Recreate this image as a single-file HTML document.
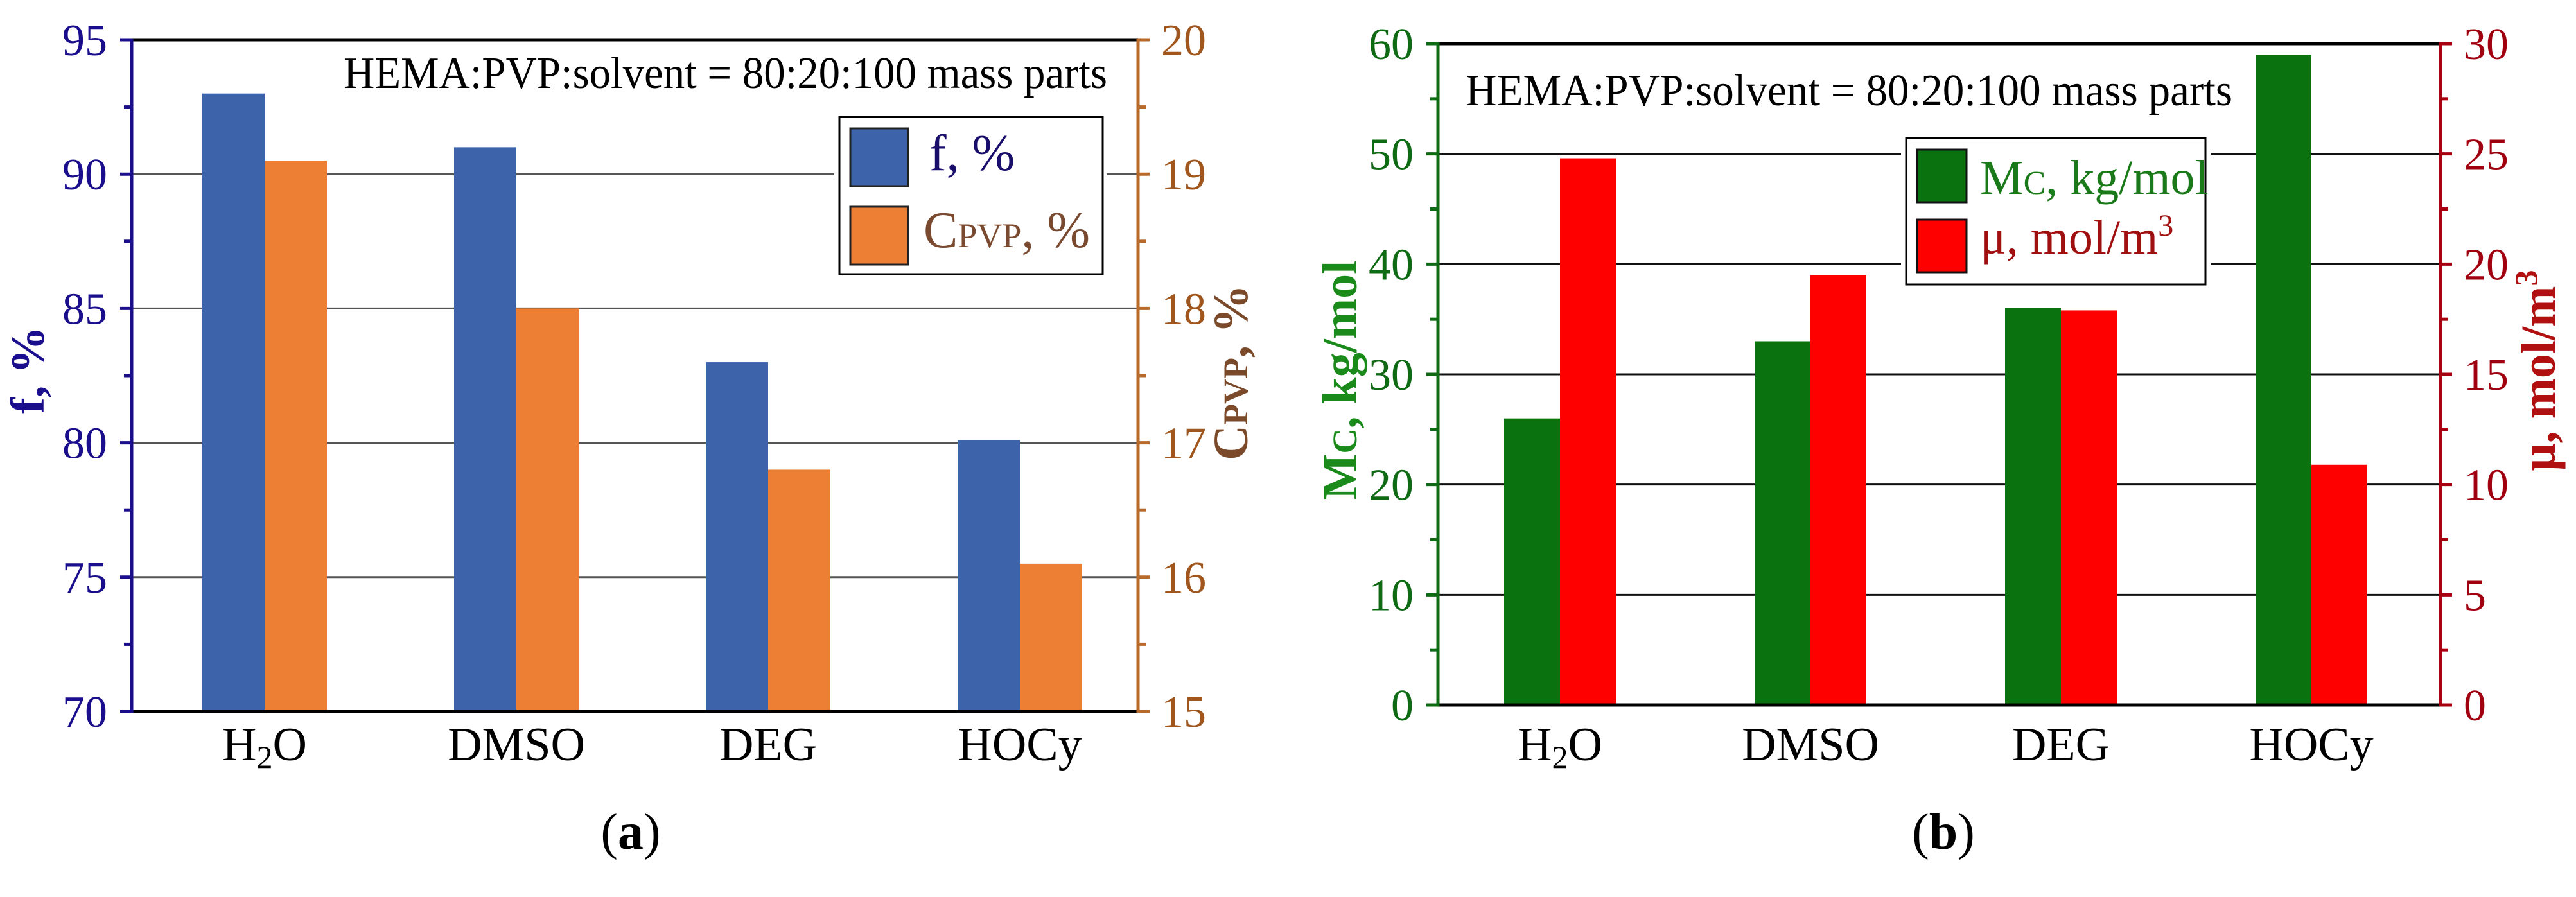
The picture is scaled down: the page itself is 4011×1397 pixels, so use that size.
<!DOCTYPE html>
<html><head><meta charset="utf-8">
<style>
html,body{margin:0;padding:0;background:#fff;}
svg, svg text{font-family:"Liberation Serif","Times New Roman",serif !important;}
</style></head>
<body>
<svg id="fig" width="4011" height="1392" viewBox="0 0 4011 1392" xmlns="http://www.w3.org/2000/svg" font-family="Liberation Serif, serif">
<rect width="4011" height="1392" fill="#fff"/>
<g id="chartA" font-family="Liberation Serif, serif"></g>
<g id="chartB" font-family="Liberation Serif, serif"></g>
</svg>
<script>
const categoriesA = ["H2O","DMSO","DEG","HOCy"];
const fValues = [93, 91, 83, 80.1];
const cpvpValues = [19.1, 18.0, 16.8, 16.1];
const leftTicksA = [70,75,80,85,90,95];
const rightTicksA = [15,16,17,18,19,20];

const categoriesB = ["H2O","DMSO","DEG","HOCy"];
const mcValues = [26, 33, 36, 59];
const muValues = [24.8, 19.5, 17.9, 10.9];
const leftTicksB = [0,10,20,30,40,50,60];
const rightTicksB = [0,5,10,15,20,25,30];

const NS = "http://www.w3.org/2000/svg";
function mk(parent, tag, attrs, text){
  const e = document.createElementNS(NS, tag);
  for (const k in attrs) e.setAttribute(k, attrs[k]);
  if (text !== undefined) e.textContent = text;
  parent.appendChild(e);
  return e;
}
function catLabel(g, name, x, y){
  const t = mk(g, "text", {x:x, y:y, "font-size":74, "text-anchor":"middle", fill:"#000"});
  
  
  if (name === "H2O"){
    mk(t, "tspan", {}, "H");
    mk(t, "tspan", {"font-size":50, dy:12}, "2");
    mk(t, "tspan", {dy:-12}, "O");
  } else t.textContent = name;
}

function drawChart(cfg){
  const g = document.getElementById(cfg.id);
  const {x0,x1,y0,y1} = cfg;
  const yL = v => y1 - (v - cfg.lmin)/(cfg.lmax - cfg.lmin)*(y1 - y0);
  const yR = v => y1 - (v - cfg.rmin)/(cfg.rmax - cfg.rmin)*(y1 - y0);
  const xC = i => cfg.c0 + i*cfg.step;
  cfg.leftTicks.forEach((v,i)=>{
    if (i===0 || i===cfg.leftTicks.length-1) return;
    const l = mk(g,"line",{x1:x0,x2:x1,y1:yL(v),y2:yL(v),stroke:cfg.grid,"stroke-width":3});
    
    
  });
  cfg.cats.forEach((c,i)=>{
    const b1 = mk(g,"rect",{x:xC(i)-cfg.bw,y:yL(cfg.s1[i]),width:cfg.bw,height:y1-yL(cfg.s1[i]),fill:cfg.c1});
    
    
    const b2 = mk(g,"rect",{x:xC(i),y:yR(cfg.s2[i]),width:cfg.bw,height:y1-yR(cfg.s2[i]),fill:cfg.c2});
    
    
    catLabel(g, c, xC(i), cfg.labY);
  });
  mk(g,"line",{x1:x0,x2:x1,y1:y0,y2:y0,stroke:"#000","stroke-width":5,});
  mk(g,"line",{x1:x0,x2:x1,y1:y1,y2:y1,stroke:"#000","stroke-width":5,});
  mk(g,"line",{x1:x0,x2:x0,y1:y0-2,y2:y1+2,stroke:cfg.la,"stroke-width":5,});
  const lstep = cfg.leftTicks[1]-cfg.leftTicks[0];
  cfg.leftTicks.forEach((v,i)=>{
    const tk = mk(g,"line",{x1:x0-18,x2:x0,y1:yL(v),y2:yL(v),stroke:cfg.la,"stroke-width":5});
    
    
    if (i < cfg.leftTicks.length-1){
      const m = mk(g,"line",{x1:x0-12,x2:x0,y1:yL(v+lstep/2),y2:yL(v+lstep/2),stroke:cfg.la,"stroke-width":5});
      
      
    }
    const t = mk(g,"text",{x:x0-38,y:yL(v)+24,"font-size":70,"text-anchor":"end",fill:cfg.lt},String(v));
    
    
  });
  mk(g,"line",{x1:x1,x2:x1,y1:y0-2,y2:y1+2,stroke:cfg.ra,"stroke-width":5,});
  const rstep = cfg.rightTicks[1]-cfg.rightTicks[0];
  cfg.rightTicks.forEach((v,i)=>{
    const tk = mk(g,"line",{x1:x1,x2:x1+18,y1:yR(v),y2:yR(v),stroke:cfg.ra,"stroke-width":5});
    
    
    if (i < cfg.rightTicks.length-1){
      const m = mk(g,"line",{x1:x1,x2:x1+12,y1:yR(v+rstep/2),y2:yR(v+rstep/2),stroke:cfg.ra,"stroke-width":5});
      
      
    }
    const t = mk(g,"text",{x:x1+36,y:yR(v)+24,"font-size":70,"text-anchor":"start",fill:cfg.rt},String(v));
    
    
  });
  return g;
}

drawChart({id:"chartA",x0:205,x1:1772,y0:62,y1:1108,lmin:70,lmax:95,rmin:15,rmax:20,
  c0:412,step:392,bw:97,cats:categoriesA,s1:fValues,s2:cpvpValues,c1:"#3d64ab",c2:"#ec7f33",n1:"f",n2:"cpvp",
  leftTicks:leftTicksA,rightTicks:rightTicksA,grid:"#555",la:"#1a0e8c",lt:"#1a0e8c",ra:"#b86a2a",rt:"#a0561c",labY:1184});
drawChart({id:"chartB",x0:2239,x1:3800,y0:68,y1:1098,lmin:0,lmax:60,rmin:0,rmax:30,
  c0:2429,step:390,bw:87,cats:categoriesB,s1:mcValues,s2:muValues,c1:"#0a720f",c2:"#ff0000",n1:"mc",n2:"mu",
  leftTicks:leftTicksB,rightTicks:rightTicksB,grid:"#111",la:"#0f6a14",lt:"#0f6a14",ra:"#a80010",rt:"#a00010",labY:1184});
</script>
<script>
(function(){
  const a=document.getElementById("chartA"), b=document.getElementById("chartB");
  a.insertAdjacentHTML("beforeend",`
  <text x="535" y="137" font-size="70" textLength="1189" lengthAdjust="spacingAndGlyphs">HEMA:PVP:solvent = 80:20:100 mass parts</text>
  <rect x="1299" y="176" width="424" height="257" fill="#fff"/>
  <rect x="1307" y="182" width="410" height="245" fill="#fff" stroke="#000" stroke-width="3"/>
  <rect x="1324" y="200" width="90" height="90" fill="#3d64ab" stroke="#222" stroke-width="3"/>
  <rect x="1324" y="322" width="90" height="90" fill="#ec7f33" stroke="#222" stroke-width="3"/>
  <text x="1447" y="265" font-size="80" fill="#1a0e6c">f, %</text>
  <text x="1438" y="385" font-size="80" fill="#7a4a30">C<tspan font-size="54">PVP</tspan>, %</text>
  <text transform="translate(68,576) rotate(-90)" font-size="74" font-weight="bold" text-anchor="middle" fill="#1a0e8c">f, %</text>
  <text transform="translate(1942,580) rotate(-90)" font-size="76" font-weight="bold" text-anchor="middle" fill="#7a4a2a">C<tspan font-size="54">PVP</tspan>, %</text>
  <text x="982" y="1322" font-size="80" text-anchor="middle">(<tspan font-weight="bold">a</tspan>)</text>`);
  b.insertAdjacentHTML("beforeend",`
  <text x="2282" y="164" font-size="70" textLength="1194" lengthAdjust="spacingAndGlyphs">HEMA:PVP:solvent = 80:20:100 mass parts</text>
  <rect x="2960" y="208" width="482" height="241" fill="#fff"/>
  <rect x="2968" y="215" width="466" height="228" fill="#fff" stroke="#000" stroke-width="3"/>
  <rect x="2985" y="233" width="77" height="82" fill="#0a720f" stroke="#111" stroke-width="3"/>
  <rect x="2985" y="342" width="77" height="82" fill="#ff0000" stroke="#111" stroke-width="3"/>
  <text x="3083" y="302" font-size="76" fill="#1a7a1a">M<tspan font-size="52">C</tspan>, kg/mol</text>
  <text x="3083" y="395" font-size="76" fill="#a01010">μ, mol/m<tspan font-size="48" dy="-28">3</tspan></text>
  <text transform="translate(2112,592) rotate(-90)" font-size="76" font-weight="bold" text-anchor="middle" fill="#1a8a1a">M<tspan font-size="54">C</tspan>, kg/mol</text>
  <text transform="translate(3978,577) rotate(-90)" font-size="76" font-weight="bold" text-anchor="middle" fill="#b01010">μ, mol/m<tspan font-size="50" dy="-28">3</tspan></text>
  <text x="3026" y="1322" font-size="80" text-anchor="middle">(<tspan font-weight="bold">b</tspan>)</text>`);
})();
</script>
</body></html>
